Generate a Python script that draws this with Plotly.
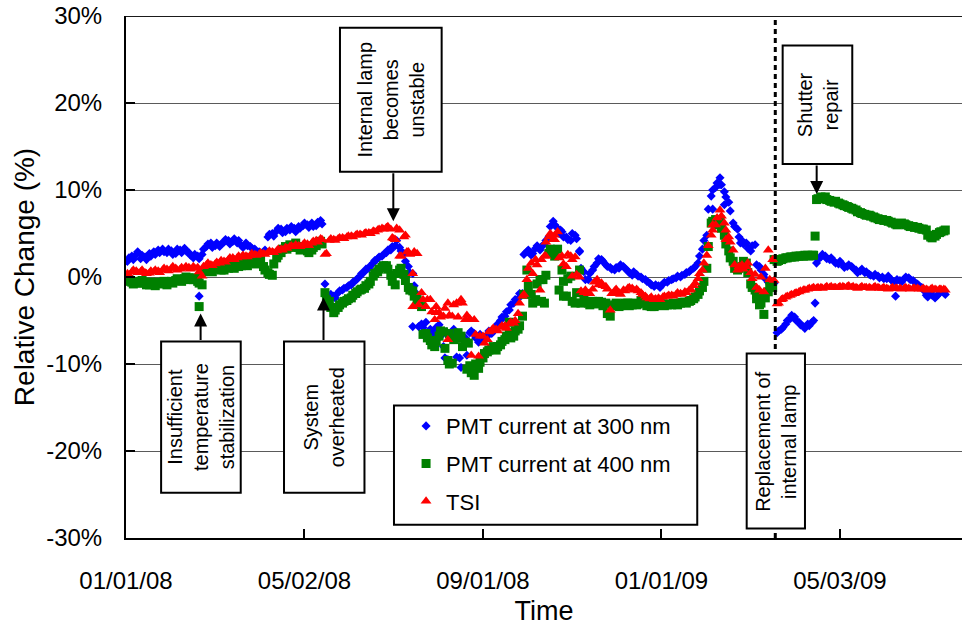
import pandas as pd
import plotly.graph_objects as go

FONT = "Liberation Sans, Arial, Helvetica, sans-serif"

# Readings are logged on a three-day cycle, plus the intermediate day
sample_dates = pd.date_range("2008-01-02", periods=187, freq="3D")
offset_dates = pd.date_range("2008-01-03", periods=187, freq="3D")

pmt300 = [
    1.8, 2.4, 2.6, 2.1, 2.3, 2.7, 2.9, 3.1, 3.2, 2.8,
    3.0, 2.7, 3.1, 3.3, 2.8, 2.2, 2.4, 2.6, 3.5, 3.9,
    3.6, 3.5, 4.0, 4.2, 4.1, 3.9, 3.6, 3.9, 3.5, 3.2,
    2.9, 2.8, 4.6, 5.0, 5.3, 5.5, 5.2, 5.4, 5.6, 5.8,
    5.9, 6.0, 6.2, 5.9, 6.5, -0.8, -2.4, -2.2, -1.8, -1.5,
    -1.2, -0.9, -0.4, 0.1, 0.6, 1.0, 1.6, 2.1, 2.4, 2.8,
    3.1, 3.6, 3.4, 2.7, 1.2, 0.4, -2.0, -5.4, -5.2, -6.0,
    -6.4, -5.5, -8.0, -9.5, -6.3, -9.2, -10.4, -7.0, -6.4, -6.5,
    -7.5, -7.0, -6.8, -6.5, -5.8, -5.0, -4.5, -3.8, -3.0, -2.5,
    -1.9, 2.9, 2.5, 3.3, 3.1, 3.8, 4.6, 6.4, 5.6, 5.2,
    4.6, 4.2, 4.8, 3.0, 0.6, -0.3, 0.8, 1.6, 2.0, 1.4,
    1.1, 0.8, 1.0, 1.2, 0.7, 0.2, 0.3, 0.0, -0.3, -0.7,
    -1.1, -1.0, -0.8, -0.6, -0.3, -0.1, 0.0, 0.3, 0.6, 1.0,
    1.6, 3.2, 4.8, 9.3, 10.3, 11.4, 9.8, 8.6, 6.2, 5.5,
    4.2, 3.9, 3.0, 3.7, 1.2, 0.3, -0.6, -0.9, -6.4, -6.0,
    -5.4, -4.8, -4.6, -5.2, -5.7, -5.4, -5.2, 1.6, 2.3, 2.4,
    2.0, 1.8, 1.5, 1.4, 1.2, 1.2, 0.8, 0.7, 0.5, 0.3,
    0.1, 0.1, 0.0, -0.2, -0.3, -0.5, -0.4, -0.2, -0.1, -0.4,
    -0.8, -1.2, -2.1, -1.8, -2.4, -1.9, -1.8,
]
pmt300_offset = [
    2.2, 2.0, 2.9, 2.5, 2.0, 2.4, 2.6, 2.8, 2.9, 3.2,
    2.6, 3.2, 2.8, 3.0, 2.5, 2.6, 2.1, 3.2, 3.8, 3.4,
    3.9, 3.8, 4.3, 3.8, 4.4, 4.2, 3.4, 3.6, 3.3, 3.0,
    2.6, 3.1, 4.9, 4.7, 5.6, 5.1, 5.6, 5.8, 5.2, 5.6,
    6.2, 5.7, 5.8, 6.3, 6.1, -2.6, -2.0, -2.4, -1.6, -1.3,
    -1.0, -0.6, -0.2, 0.4, 0.9, 1.3, 1.9, 2.3, 2.6, 3.1,
    3.5, 4.2, 3.0, 1.8, 0.5, -1.0, -5.7, -5.8, -6.4, -6.2,
    -5.8, -6.8, -9.3, -6.6, -6.0, -6.6, -7.0, -9.0, -6.2, -7.0,
    -6.6, -7.3, -6.2, -6.0, -5.4, -4.6, -4.0, -3.2, -2.6, -1.9,
    2.6, 3.1, 2.7, 3.6, 3.5, 4.2, 5.8, 6.0, 5.0, 4.6,
    4.3, 5.0, 4.4, 1.0, -0.3, 0.4, 1.2, 2.1, 1.8, 1.2,
    0.9, 1.1, 1.4, 1.0, 0.5, 0.6, 0.1, -0.2, -0.5, -0.9,
    -0.9, -1.2, -0.6, -0.4, -0.2, 0.1, 0.2, 0.5, 0.8, 1.2,
    2.4, 4.2, 7.8, 10.0, 10.8, 10.6, 9.2, 7.6, 5.8, 4.6,
    3.8, 3.3, 3.6, 1.4, 0.8, -0.2, -0.8, -0.7, -6.2, -5.8,
    -5.0, -4.4, -5.0, -5.5, -5.9, -5.6, -5.0, 2.0, 2.6, 2.1,
    2.2, 1.6, 1.8, 1.1, 1.4, 1.0, 0.5, 0.9, 0.6, 0.2,
    0.3, -0.1, -0.2, 0.1, -0.5, -0.3, -0.6, 0.0, -0.3, -0.6,
    -1.0, -1.5, -2.3, -2.1, -2.2, -1.6, -2.0,
]

pmt400 = [
    -0.5, -0.6, -0.5, -0.7, -0.6, -0.9, -0.8, -0.6, -0.7, -0.9,
    -0.5, -0.4, -0.3, -0.2, -0.1, -0.3, -0.5, -0.9, 0.7, 0.8,
    0.9, 1.0, 0.8, 1.0, 1.2, 1.4, 1.3, 1.5, 1.6, 1.8,
    1.7, 1.2, 0.5, 0.2, 2.2, 2.8, 3.5, 3.7, 3.6, 3.4,
    3.2, 3.0, 3.1, 3.6, 4.1, -1.8, -2.8, -4.1, -3.5, -3.0,
    -2.7, -2.4, -1.9, -1.5, -1.3, -0.8, 0.1, 0.6, 1.1, 1.3,
    0.2, -0.9, 0.8, 0.3, -1.2, -1.6, -2.6, -3.4, -6.5, -7.3,
    -8.0, -6.8, -6.3, -9.6, -9.9, -7.0, -6.8, -7.5, -10.2, -11.3,
    -10.5, -9.3, -8.6, -8.2, -8.4, -7.8, -7.2, -6.4, -6.8, -6.0,
    -4.5, 0.8, -2.0, -2.6, -0.3, -3.0, 2.7, 3.0, 3.2, 0.8,
    -2.2, 0.1, -3.0, 0.8, -2.4, -3.0, -2.8, -3.1, -2.9, -3.0,
    -4.5, -3.2, -3.4, -3.1, -3.0, -3.2, -3.2, -2.7, -3.0, -3.3,
    -3.4, -3.2, -3.1, -3.2, -3.2, -3.1, -3.0, -2.9, -2.8, -2.5,
    -2.0, -1.2, 1.0, 6.2, 6.6, 6.6, 4.8, 3.0, 1.8, 0.8,
    1.2, 1.6, -0.8, -1.5, -3.2, -4.3, -1.7, -1.2, 1.8, 2.0,
    2.2, 2.3, 2.3, 2.4, 2.4, 2.5, 2.5, 8.9, 9.2, 9.2,
    8.8, 8.6, 8.5, 8.3, 8.1, 7.9, 7.7, 7.4, 7.2, 7.1,
    6.9, 6.7, 6.6, 6.5, 6.3, 6.1, 6.1, 6.1, 5.9, 5.8,
    5.7, 5.5, 5.4, 4.6, 4.7, 5.1, 5.3,
]
pmt400_offset = [
    -0.3, -0.8, -0.7, -0.4, -0.9, -0.6, -1.0, -0.8, -0.5, -0.6,
    -0.7, -0.2, -0.5, 0.0, -0.3, -0.1, -0.7, 0.6, 0.9, 0.6,
    1.1, 0.8, 1.1, 1.2, 1.0, 1.2, 1.6, 1.3, 1.8, 1.5,
    1.9, 0.8, 0.3, 1.5, 2.5, 3.2, 3.2, 3.4, 3.9, 3.1,
    3.5, 2.8, 3.4, 3.9, 3.8, -2.6, -3.5, -3.8, -3.2, -2.8,
    -2.5, -2.1, -1.7, -1.4, -1.0, -0.5, 0.4, 0.9, 1.3, 0.9,
    -0.5, 0.4, 1.0, -0.4, -1.5, -2.2, -3.0, -6.6, -7.0, -7.8,
    -7.4, -6.2, -8.2, -10.0, -7.2, -6.4, -8.0, -10.6, -11.0, -10.0,
    -9.8, -8.8, -8.4, -8.0, -8.0, -7.4, -6.8, -7.0, -6.2, -5.6,
    -2.0, -1.0, -3.0, -0.8, -2.8, 0.2, 3.2, 2.4, -1.5, -0.5,
    -0.2, -2.8, -1.8, -3.0, -2.8, -3.2, -3.0, -2.8, -3.3, -4.2,
    -3.3, -3.0, -3.3, -3.0, -3.3, -3.0, -3.1, -2.9, -3.3, -3.4,
    -3.3, -3.0, -3.3, -3.1, -3.0, -3.2, -2.9, -3.0, -2.7, -2.3,
    -1.6, -0.5, 3.5, 6.4, 6.0, 5.6, 3.8, 2.2, 1.0, 1.0,
    1.8, 0.5, -1.2, -2.0, -3.0, -2.4, -0.8, 2.0, 1.9, 2.1,
    2.2, 2.3, 2.4, 2.4, 2.5, 2.4, 2.5, 9.0, 9.0, 8.9,
    8.7, 8.7, 8.4, 8.2, 8.0, 7.8, 7.5, 7.3, 7.1, 7.0,
    6.8, 6.6, 6.5, 6.4, 6.2, 6.0, 6.2, 6.0, 5.8, 5.7,
    5.6, 5.5, 4.8, 4.5, 4.9, 5.2, 5.4,
]

tsi = [
    0.4, 0.6, 0.7, 0.6, 0.5, 0.45, 0.6, 0.7, 0.8, 0.9,
    1.0, 1.0, 0.9, 1.0, 1.1, 1.2, 1.1, 0.1, 1.4, 1.4,
    1.5, 1.6, 1.8, 2.0, 2.2, 2.2, 2.3, 2.4, 2.5, 2.6,
    2.6, 2.7, 2.8, 2.9, 3.0, 3.2, 3.4, 3.5, 3.5, 3.6,
    3.7, 3.8, 3.9, 4.2, 4.4, 2.6, 4.2, 4.3, 4.4, 4.5,
    4.6, 4.7, 4.8, 4.9, 5.0, 5.1, 5.3, 5.4, 5.6, 5.7,
    5.5, 4.3, 5.4, 4.6, 2.9, 0.4, 2.7, -1.8, -3.4, -2.6,
    -4.9, -4.1, -4.5, -7.2, -4.5, -3.0, -2.6, -4.9, -4.8, -4.9,
    -9.1, -6.8, -7.2, -6.1, -6.0, -5.8, -5.6, -5.4, -5.3, -4.2,
    -2.2, -0.3, 1.6, 2.0, -1.5, 2.4, 4.6, 4.3, 5.2, 2.4,
    1.2, 2.4, 2.3, 0.0, -1.8, -1.9, -1.4, -0.3, -0.7, -1.1,
    -3.8, -1.6, -1.8, -1.5, -1.3, -1.3, -1.4, -1.8, -2.2, -2.5,
    -2.6, -2.4, -2.3, -2.2, -2.1, -2.0, -1.9, -1.7, -1.5, -1.0,
    -0.2, 0.8, 2.5, 4.8, 6.0, 7.7, 6.2, 4.6, 3.1, 0.8,
    1.4, 1.2, 0.5, 0.3, -1.5, -1.7, 3.1, 2.0, -3.1, -2.6,
    -2.3, -2.1, -1.9, -1.7, -1.5, -1.4, -1.3, -1.3, -1.2, -1.2,
    -1.2, -1.2, -1.2, -1.1, -1.1, -1.2, -1.2, -1.2, -1.2, -1.2,
    -1.2, -1.2, -1.3, -1.3, -1.3, -1.3, -1.3, -1.3, -1.3, -1.3,
    -1.3, -1.4, -1.4, -1.4, -1.4, -1.4, -1.4,
]
tsi_offset = [
    0.2, 0.8, 0.5, 0.8, 0.4, 0.7, 0.8, 0.5, 1.0, 0.7,
    1.2, 0.8, 1.1, 1.2, 0.9, 1.0, 0.6, 1.2, 1.6, 1.3,
    1.7, 1.9, 1.7, 2.2, 2.0, 2.4, 2.5, 2.3, 2.7, 2.5,
    2.8, 2.6, 3.0, 2.8, 3.2, 3.1, 3.3, 3.6, 3.7, 3.5,
    3.9, 3.6, 4.1, 4.0, 4.3, 2.7, 4.4, 4.2, 4.5, 4.4,
    4.7, 4.6, 4.9, 4.8, 5.1, 5.0, 5.2, 5.5, 5.5, 5.8,
    4.5, 5.6, 2.4, 4.8, 2.6, 2.9, -3.2, -2.6, -2.6, -4.0,
    -3.4, -4.6, -3.6, -4.4, -3.2, -4.6, -3.0, -4.4, -9.0, -6.6,
    -6.8, -7.6, -6.3, -5.9, -6.2, -5.6, -5.9, -5.2, -5.0, -3.0,
    -2.0, 1.0, 0.4, 1.4, 2.0, 4.0, 5.0, 4.8, 2.2, 1.5,
    2.6, 2.0, 0.3, -1.6, -1.5, -1.9, -0.6, -0.9, -1.0, -1.4,
    -1.9, -1.4, -2.0, -1.6, -1.2, -1.5, -1.6, -2.0, -2.4, -2.3,
    -2.5, -2.6, -2.2, -2.1, -2.2, -1.8, -2.0, -1.8, -1.4, -0.7,
    0.4, 1.6, 3.6, 5.4, 6.8, 7.0, 5.4, 4.0, 1.4, 1.2,
    0.9, 1.6, -0.2, -1.2, 0.0, 1.0, -0.3, -0.4, -3.0, -2.5,
    -2.2, -2.0, -1.8, -1.6, -1.5, -1.3, -1.2, -1.2, -1.3, -1.1,
    -1.1, -1.2, -1.1, -1.2, -1.0, -1.1, -1.3, -1.1, -1.2, -1.3,
    -1.1, -1.3, -1.2, -1.4, -1.2, -1.3, -1.4, -1.2, -1.4, -1.3,
    -1.4, -1.3, -1.5, -1.3, -1.5, -1.4, -1.5,
]

# Isolated readings outside the regular cycle
pmt300_extra_dates = [
    "2008-02-20", "2008-07-15", "2008-07-29", "2008-08-07", "2008-08-16",
    "2008-08-25", "2008-09-03", "2008-10-10", "2008-10-24", "2008-11-06",
    "2009-02-05", "2009-02-10", "2009-02-13", "2009-02-24", "2009-04-16",
    "2009-06-10",
]
pmt300_extra = [-2.2, -5.7, -6.4, -6.3, -9.3, -6.4, -6.8, 3.3, 5.4, 2.9,
                7.8, 10.6, 8.3, 3.9, -3.0, -2.2]

pmt400_extra_dates = ["2008-02-20", "2008-08-09", "2008-08-22", "2008-09-19",
                      "2008-10-12", "2008-10-26", "2009-03-07", "2009-04-16"]
pmt400_extra = [-3.4, -6.5, -7.6, -5.2, -0.3, -2.2, -2.5, 4.7]

tsi_extra_dates = ["2008-07-02", "2008-07-06", "2008-07-11", "2008-07-15",
                   "2008-07-31", "2008-08-08", "2008-10-14", "2008-10-20",
                   "2008-11-01", "2009-02-05", "2009-02-14"]
tsi_extra = [4.4, 2.4, 2.9, -3.4, -4.1, -3.0, 2.4, 4.3, 0.1, 6.0, 4.3]

# Axis ticks
x_tick_dates = ["2008-01-01", "2008-05-02", "2008-09-01", "2009-01-01", "2009-05-03"]
x_tick_labels = ["01/01/08", "05/02/08", "09/01/08", "01/01/09", "05/03/09"]
y_tick_vals = [-30, -20, -10, 0, 10, 20, 30]
y_tick_labels = ["-30%", "-20%", "-10%", "0%", "10%", "20%", "30%"]

# Event notes: box corners (date, %) and optional arrow (date, tail %, tip %)
events = [
    dict(text="Insufficient<br>temperature<br>stabilization",
         x0="2008-01-25", x1="2008-03-19 10:00", y0=-24.8, y1=-7.4,
         arrow=("2008-02-21", -7.4, -4.2)),
    dict(text="System<br>overheated",
         x0="2008-04-18", x1="2008-06-12", y0=-24.8, y1=-7.4,
         arrow=("2008-05-15", -7.4, -2.35)),
    dict(text="Internal lamp<br>becomes<br>unstable",
         x0="2008-05-26 06:00", x1="2008-08-03 18:00", y0=12.1, y1=28.65,
         arrow=("2008-07-01 17:00", 12.1, 6.4)),
    dict(text="Shutter<br>repair",
         x0="2009-03-24 20:00", x1="2009-05-11 10:00", y0=13.0, y1=26.6,
         arrow=("2009-04-17 02:00", 13.0, 9.55)),
    dict(text="Replacement of<br>internal lamp",
         x0="2009-02-28 06:00", x1="2009-04-09 02:00", y0=-28.9, y1=-8.8,
         arrow=None),
]
lamp_replacement = "2009-03-19 19:00"

fig = go.Figure()

series = [
    ("PMT current at 300 nm", pmt300, pmt300_offset, pmt300_extra_dates, pmt300_extra,
     "diamond", 7, "#0000FF"),
    ("PMT current at 400 nm", pmt400, pmt400_offset, pmt400_extra_dates, pmt400_extra,
     "square", 9, "#008000"),
    ("TSI", tsi, tsi_offset, tsi_extra_dates, tsi_extra,
     "triangle-up", 9.5, "#FF0000"),
]
for name, vals, offset_vals, extra_dates, extra_vals, symbol, size, color in series:
    xs = list(sample_dates) + list(offset_dates) + list(pd.to_datetime(extra_dates))
    ys = list(vals) + list(offset_vals) + list(extra_vals)
    fig.add_trace(go.Scatter(
        x=xs, y=ys, mode="markers", name=name, legendgroup=name,
        marker=dict(symbol=symbol, size=size, color=color, line=dict(width=0)),
    ))

shapes = [
    # upper edge of the plotting area
    dict(type="line", xref="paper", yref="y", x0=0, x1=1, y0=30, y1=30,
         layer="above", line=dict(color="#1a1a1a", width=2)),
    dict(type="line", xref="x", yref="y", x0=lamp_replacement, x1=lamp_replacement,
         y0=-30, y1=30, layer="above", line=dict(color="black", width=3, dash="5px,4px")),
    # legend frame
    dict(type="rect", xref="x", yref="y", x0="2008-07-02 04:00", x1="2009-01-25 11:00",
         y0=-28.47, y1=-14.76, layer="above", fillcolor="white",
         line=dict(color="black", width=2)),
]
annotations = []
for ev in events:
    shapes.append(dict(type="rect", xref="x", yref="y", x0=ev["x0"], x1=ev["x1"],
                       y0=ev["y0"], y1=ev["y1"], layer="above", fillcolor="white",
                       line=dict(color="black", width=2)))
    t0, t1 = pd.Timestamp(ev["x0"]), pd.Timestamp(ev["x1"])
    annotations.append(dict(
        x=t0 + (t1 - t0) / 2, y=(ev["y0"] + ev["y1"]) / 2, xref="x", yref="y",
        text=ev["text"], textangle=-90, showarrow=False, xanchor="center", yanchor="middle",
        font=dict(family=FONT, size=20, color="black"), align="center",
    ))
    if ev["arrow"]:
        ax, tail, tip = ev["arrow"]
        annotations.append(dict(
            x=ax, y=tip, ax=ax, ay=tail, xref="x", yref="y", axref="x", ayref="y",
            text="", showarrow=True, arrowhead=2, arrowsize=1.3, arrowwidth=2,
            arrowcolor="black", standoff=0,
        ))

fig.update_layout(
    width=962, height=626,
    margin=dict(l=126, r=0, t=16, b=88),
    paper_bgcolor="white", plot_bgcolor="white",
    font=dict(family=FONT, size=22, color="black"),
    showlegend=True,
    legend=dict(x=0.335, y=0.2546, xanchor="left", yanchor="top",
                bgcolor="rgba(0,0,0,0)", borderwidth=0,
                font=dict(family=FONT, size=22, color="black"),
                tracegroupgap=6, itemwidth=30),
    xaxis=dict(
        type="date", range=["2008-01-01", "2009-07-25 10:00"],
        tickvals=x_tick_dates, ticktext=x_tick_labels,
        ticks="inside", ticklen=9, tickwidth=2, tickcolor="black",
        showline=True, linecolor="black", linewidth=2,
        showgrid=False, zeroline=False,
        tickfont=dict(family=FONT, size=24, color="black"),
        ticklabelstandoff=20,
        title=dict(text="Time", font=dict(family=FONT, size=27, color="black"), standoff=11),
    ),
    yaxis=dict(
        range=[-30, 30], tickvals=y_tick_vals, ticktext=y_tick_labels,
        ticks="inside", ticklen=9, tickwidth=2, tickcolor="black",
        showline=True, linecolor="black", linewidth=2,
        showgrid=True, gridcolor="#5a5a5a", gridwidth=1, zeroline=False,
        tickfont=dict(family=FONT, size=24, color="black"),
        ticklabelstandoff=17,
        title=dict(text="Relative Change (%)", font=dict(family=FONT, size=28, color="black"), standoff=3),
    ),
    shapes=shapes,
    annotations=annotations,
)

fig.write_html("out.html")
